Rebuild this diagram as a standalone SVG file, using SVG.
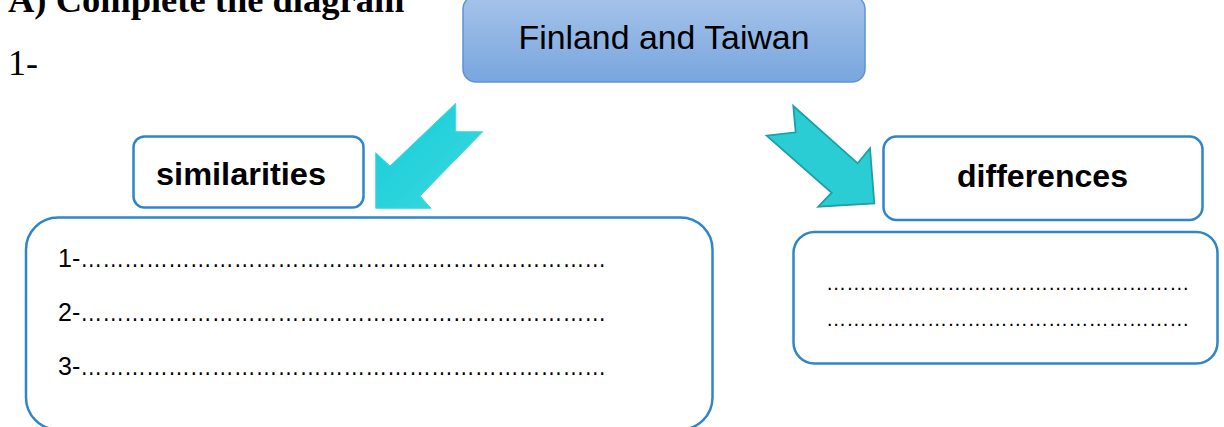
<svg xmlns="http://www.w3.org/2000/svg" width="1224" height="427" viewBox="0 0 1224 427">
<defs>
<linearGradient id="topg" x1="0" y1="0" x2="0" y2="1">
<stop offset="0" stop-color="#A6C3EA"/>
<stop offset="1" stop-color="#78A6DE"/>
</linearGradient>
<linearGradient id="arrL" x1="0" y1="0" x2="1" y2="1">
<stop offset="0" stop-color="#14CDD9"/>
<stop offset="1" stop-color="#3CD8DF"/>
</linearGradient>
<style>
.hdr{font-family:"Liberation Serif","Times New Roman",serif;fill:#000}
.box{fill:#fff;stroke:#2E86C9;stroke-width:2.5}
.lbl{font-family:"Liberation Sans",Arial,sans-serif;font-weight:bold;font-size:31px;fill:#000}
.ln{font-family:"Liberation Sans",Arial,sans-serif;font-size:25px;fill:#000}
.dl{font-family:"Liberation Sans",Arial,sans-serif;font-size:20.2px;fill:#000}
</style>
</defs>
<rect width="1224" height="427" fill="#fff"/>
<text class="hdr" x="8" y="12" font-size="36.5" font-weight="bold">A) Complete the diagram</text>
<text class="hdr" x="8" y="75" font-size="36">1-</text>

<g id="top">
<rect x="463" y="-4" width="402" height="86" rx="13" fill="url(#topg)" stroke="#5E93D3" stroke-width="1.5"/>
<text x="664" y="49" text-anchor="middle" font-family="'Liberation Sans',Arial,sans-serif" font-size="33" textLength="291" lengthAdjust="spacingAndGlyphs">Finland and Taiwan</text>
</g>

<g id="connectors">
<polygon points="455.7,103.3 455.7,131.7 482.7,131.7 420,196 431,208.3 375.7,208.3 375.7,152.7 390,166" fill="url(#arrL)" stroke="#4CD6DE" stroke-width="1"/>
<polygon points="793.3,106 795.7,132.3 766.7,135.7 831.7,192.7 818.3,206.7 874.3,203.3 870,148.3 857.7,163.3" fill="#2BCDD5" stroke="#1E9FA6" stroke-width="1.8" stroke-linejoin="miter"/>
</g>

<g id="similarities">
<rect class="box" x="133.5" y="136.5" width="230" height="71" rx="11"/>
<text class="lbl" x="156" y="185" textLength="170" lengthAdjust="spacingAndGlyphs">similarities</text>
</g>

<g id="differences">
<rect class="box" x="883.5" y="136.5" width="319" height="83.5" rx="13"/>
<text class="lbl" x="957" y="187" textLength="171" lengthAdjust="spacingAndGlyphs">differences</text>
</g>

<g id="similarities-list">
<rect class="box" x="26" y="217.5" width="686.5" height="212" rx="32"/>
<text class="ln" x="58" y="267">1-<tspan textLength="526" lengthAdjust="spacingAndGlyphs">………………………………………………………………</tspan></text>
<text class="ln" x="58" y="321">2-<tspan textLength="526" lengthAdjust="spacingAndGlyphs">………………………………………………………………</tspan></text>
<text class="ln" x="58" y="375">3-<tspan textLength="526" lengthAdjust="spacingAndGlyphs">………………………………………………………………</tspan></text>
</g>

<g id="differences-list">
<rect class="box" x="793.5" y="232" width="424" height="131.5" rx="21"/>
<text class="dl" x="826" y="290">&#8230;&#8230;&#8230;&#8230;&#8230;&#8230;&#8230;&#8230;&#8230;&#8230;&#8230;&#8230;&#8230;&#8230;&#8230;&#8230;&#8230;&#8230;</text>
<text class="dl" x="826" y="326">&#8230;&#8230;&#8230;&#8230;&#8230;&#8230;&#8230;&#8230;&#8230;&#8230;&#8230;&#8230;&#8230;&#8230;&#8230;&#8230;&#8230;&#8230;</text>
</g>
</svg>
